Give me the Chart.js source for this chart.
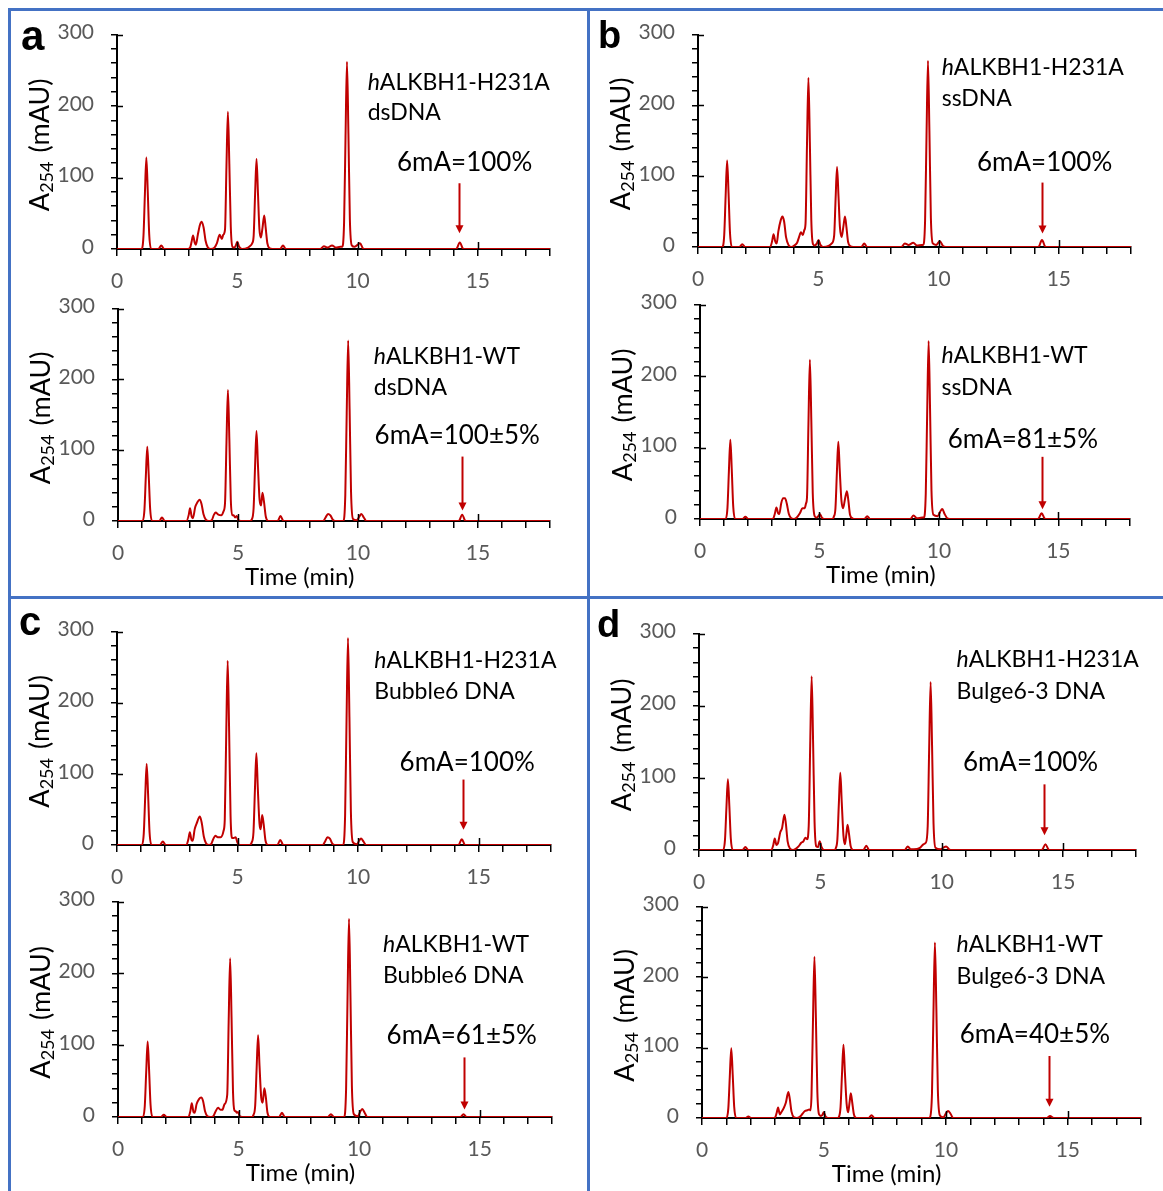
<!DOCTYPE html>
<html>
<head>
<meta charset="utf-8">
<script src="https://cdn.jsdelivr.net/npm/chart.js@4.4.1/dist/chart.umd.min.js"></script>
<style>
  body { margin: 0; background: #fff; }
  #page { position: relative; width: 1163px; height: 1191px; overflow: hidden; background: #fff; }
  #page canvas { position: absolute; }
  .rule { position: absolute; background: #4472C4; }
</style>
</head>
<body>
<div id="page">
  <div class="rule" style="left:8px;top:8px;width:1155px;height:3px"></div>
  <div class="rule" style="left:8px;top:8px;width:3px;height:1183px"></div>
  <div class="rule" style="left:587px;top:8px;width:3px;height:1183px"></div>
  <div class="rule" style="left:8px;top:596px;width:1155px;height:3px"></div>
</div>
<script>
// chromatogram traces, [time (min), A254 (mAU)]
const traceA1 = [[0,0],[1.02,0],[1.1,18],[1.16,77],[1.22,128],[1.28,79],[1.34,20],[1.42,0],
  [1.72,0],[1.84,5],[1.96,0],
  [2.95,0],[3.04,2],[3.1,10],[3.16,19],[3.23,9],[3.28,6],
  [3.36,20],[3.45,34],[3.52,38],[3.6,30],[3.68,12],[3.78,2],[3.9,0],
  [4.05,2],[4.15,8],[4.27,20],[4.36,14],[4.42,20],
  [4.49,27],[4.55,115],[4.61,192],[4.67,119],[4.73,31],[4.8,3],[4.88,2],
  [4.94,5],[5.0,10],[5.08,3],[5.2,0],
  [5.45,2],[5.56,5],[5.62,8],[5.68,18],[5.74,76],[5.8,126],[5.86,78],[5.92,28],[5.98,16],[6.05,30],[6.12,47],[6.18,30],[6.25,8],[6.35,1],[6.45,0],
  [6.78,0],[6.9,5],[7.02,0],
  [8.45,0],[8.6,4],[8.75,2],[8.94,5],[9.1,2],[9.28,3],[9.36,3],
  [9.44,37],[9.5,157],[9.56,262],[9.62,162],[9.68,42],[9.76,5],
  [9.88,3],[10.1,8],[10.25,0],
  [14.1,0],[14.25,9],[14.4,0],[18,0]];

const traceA2 = [[0,0],[1.02,0],[1.1,15],[1.16,63],[1.22,105],[1.28,65],[1.34,17],[1.42,0],
  [1.72,0],[1.83,5],[1.95,0],
  [2.85,0],[2.95,9],[3.0,18],[3.07,6],[3.12,4],
  [3.22,20],[3.3,26],[3.4,30],[3.48,24],[3.56,10],[3.66,2],[3.78,0],
  [3.9,1],[4.0,9],[4.07,12],[4.18,9],[4.3,8],[4.4,14],
  [4.46,26],[4.52,111],[4.58,185],[4.64,115],[4.7,30],[4.76,8],
  [4.82,8],[4.88,5],[4.95,7],[5.02,1],[5.12,0],
  [5.5,0],[5.57,2],[5.65,18],[5.71,76],[5.77,127],[5.83,80],[5.9,30],[5.96,22],[6.02,40],[6.08,28],[6.16,6],[6.26,0],
  [6.65,0],[6.77,7],[6.9,0],
  [8.55,0],[8.65,5],[8.75,10],[8.85,8],[8.95,2],[9.05,0],
  [9.39,0],[9.47,36],[9.53,153],[9.59,255],[9.65,158],[9.71,41],[9.79,3],
  [9.95,1],[10.05,6],[10.14,10],[10.24,5],[10.35,0],
  [14.2,0],[14.34,9],[14.48,0],[18,0]];

const traceB1 = [[0,0],[1.01,0],[1.09,17],[1.15,73],[1.21,122],[1.27,76],[1.33,20],[1.41,0],
  [1.72,0],[1.84,4],[1.96,0],
  [3.0,0],[3.08,8],[3.14,18],[3.21,8],[3.27,5],
  [3.34,22],[3.44,38],[3.51,43],[3.58,36],[3.66,14],[3.76,3],[3.88,0],
  [4.0,2],[4.12,6],[4.2,14],[4.28,21],[4.36,17],[4.42,24],
  [4.47,33],[4.53,143],[4.59,239],[4.65,148],[4.71,38],[4.78,4],[4.86,2],
  [4.94,5],[5.01,10],[5.09,3],[5.2,0],
  [5.45,2],[5.56,5],[5.66,16],[5.72,68],[5.78,113],[5.84,72],[5.9,28],[5.97,14],[6.04,28],[6.11,43],[6.17,28],[6.24,7],[6.34,1],[6.45,0],
  [6.79,0],[6.91,5],[7.03,0],
  [8.45,0],[8.6,5],[8.75,3],[8.95,6],[9.1,2],[9.3,3],
  [9.36,3],[9.44,37],[9.5,158],[9.56,263],[9.62,163],[9.68,42],[9.76,5],
  [9.9,3],[10.05,8],[10.2,1],[10.3,0],
  [14.15,0],[14.3,10],[14.45,0],[18,0]];

const traceB2 = [[0,0],[1.07,0],[1.15,16],[1.21,67],[1.27,111],[1.33,69],[1.39,18],[1.47,0],
  [1.78,0],[1.9,3],[2.02,0],
  [3.05,0],[3.13,7],[3.2,16],[3.27,8],[3.32,7],
  [3.4,22],[3.48,29],[3.56,29],[3.63,22],[3.72,7],[3.82,1],[3.92,0],
  [4.05,2],[4.18,8],[4.29,15],[4.38,15],[4.44,22],
  [4.48,31],[4.54,134],[4.6,223],[4.66,138],[4.72,36],[4.8,4],[4.88,2],
  [4.95,4],[5.02,7],[5.1,2],[5.2,0],
  [5.55,0],[5.6,3],[5.67,15],[5.73,65],[5.79,108],[5.85,68],[5.92,26],[5.99,15],[6.07,28],[6.15,39],[6.21,26],[6.28,6],[6.38,1],[6.48,0],
  [6.88,0],[7.0,4],[7.12,0],
  [8.8,0],[8.94,5],[9.08,1],[9.3,2],
  [9.37,2],[9.45,35],[9.51,149],[9.57,249],[9.63,154],[9.69,40],[9.77,6],
  [9.95,4],[10.05,10],[10.14,14],[10.24,7],[10.35,1],[10.45,0],
  [14.15,0],[14.3,8],[14.45,0],[18,0]];

const traceC1 = [[0,0],[1.03,0],[1.11,16],[1.17,68],[1.23,114],[1.29,71],[1.35,18],[1.43,0],
  [1.78,0],[1.9,5],[2.02,0],
  [2.88,0],[2.96,8],[3.02,18],[3.09,7],[3.14,6],
  [3.22,22],[3.3,30],[3.44,40],[3.52,30],[3.6,12],[3.7,2],[3.82,0],
  [3.9,1],[4.0,9],[4.08,13],[4.18,11],[4.3,11],[4.42,20],
  [4.47,36],[4.53,155],[4.59,259],[4.65,161],[4.71,41],[4.77,10],
  [4.84,10],[4.92,11],[5.0,3],[5.1,0],
  [5.5,0],[5.58,3],[5.66,18],[5.72,77],[5.78,129],[5.84,80],[5.91,30],[5.96,22],[6.02,42],[6.08,30],[6.16,6],[6.26,0],
  [6.65,0],[6.77,7],[6.9,0],
  [8.53,0],[8.63,5],[8.73,11],[8.83,9],[8.93,2],[9.03,0],
  [9.38,0],[9.46,41],[9.52,175],[9.58,291],[9.64,180],[9.7,47],[9.78,4],
  [9.95,1],[10.04,6],[10.12,9],[10.22,5],[10.33,0],
  [14.16,0],[14.3,8],[14.44,0],[18,0]];

const traceC2 = [[0,0],[1.03,0],[1.11,15],[1.17,63],[1.23,105],[1.29,65],[1.35,17],[1.43,0],
  [1.78,0],[1.9,3],[2.02,0],
  [2.92,0],[3.0,8],[3.06,19],[3.13,7],[3.18,6],
  [3.26,18],[3.36,25],[3.45,27],[3.53,22],[3.61,8],[3.71,1],[3.82,0],
  [3.95,1],[4.05,8],[4.15,13],[4.25,10],[4.33,10],[4.42,18],
  [4.53,31],[4.59,133],[4.65,221],[4.71,137],[4.77,35],[4.83,9],
  [4.88,8],[4.93,6],[4.98,7],[5.05,1],[5.15,0],
  [5.55,0],[5.62,3],[5.69,16],[5.75,68],[5.81,114],[5.87,71],[5.94,27],[6.0,20],[6.07,40],[6.13,28],[6.2,6],[6.3,0],
  [6.68,0],[6.8,6],[6.92,0],
  [8.7,0],[8.83,4],[8.96,0],
  [9.38,0],[9.46,39],[9.52,166],[9.58,276],[9.64,171],[9.7,44],[9.78,4],
  [9.95,1],[10.04,7],[10.13,11],[10.23,6],[10.34,0],
  [14.2,0],[14.33,4],[14.46,0],[18,0]];

const traceD1 = [[0,0],[0.99,0],[1.07,14],[1.13,59],[1.19,98],[1.25,61],[1.31,16],[1.39,0],
  [1.79,0],[1.91,4],[2.03,0],
  [2.98,0],[3.06,7],[3.12,16],[3.19,7],[3.25,9],
  [3.35,25],[3.42,30],[3.52,49],[3.58,36],[3.65,12],[3.75,2],[3.87,0],
  [4.0,2],[4.1,5],[4.21,10],[4.3,12],[4.38,17],[4.45,15],[4.52,34],
  [4.58,145],[4.64,241],[4.7,149],[4.76,39],[4.83,5],[4.9,4],
  [4.97,12],[5.05,4],[5.15,0],
  [5.58,0],[5.64,3],[5.7,15],[5.76,64],[5.82,107],[5.88,66],[5.95,20],[6.01,8],[6.07,22],[6.12,35],[6.18,22],[6.25,5],[6.35,0],
  [6.77,0],[6.89,6],[7.01,0],
  [8.47,0],[8.6,5],[8.72,1],[8.85,1],
  [9.1,3],[9.25,8],[9.34,10],
  [9.42,33],[9.48,140],[9.54,233],[9.6,144],[9.66,37],[9.74,3],
  [9.95,1],[10.05,3],[10.18,5],[10.3,1],[10.4,0],
  [14.12,0],[14.27,8],[14.42,0],[18,0]];

const traceD2 = [[0,0],[1.0,0],[1.08,14],[1.14,59],[1.2,99],[1.26,61],[1.32,16],[1.4,0],
  [1.78,0],[1.9,2],[2.02,0],
  [2.98,0],[3.06,7],[3.12,15],[3.19,5],[3.25,8],
  [3.35,14],[3.44,22],[3.54,37],[3.6,27],[3.67,9],[3.77,1],[3.88,0],
  [4.02,2],[4.12,6],[4.22,10],[4.32,11],[4.4,12],[4.45,11],[4.49,32],
  [4.55,137],[4.61,229],[4.67,142],[4.73,37],[4.8,5],[4.87,3],
  [4.93,4],[4.99,8],[5.07,2],[5.17,0],
  [5.56,0],[5.62,2],[5.68,15],[5.74,62],[5.8,104],[5.86,64],[5.93,20],[5.99,8],[6.05,22],[6.1,35],[6.16,22],[6.23,5],[6.33,0],
  [6.83,0],[6.95,4],[7.07,0],
  [9.3,0],[9.35,1],[9.43,35],[9.49,149],[9.55,249],[9.61,154],[9.67,40],[9.75,4],
  [9.9,1],[9.99,6],[10.09,10],[10.19,6],[10.3,0],
  [14.14,0],[14.27,3],[14.42,0],[18,0]];

const xMajor = [0, 5, 10, 15];
const yMajor = [0, 100, 200, 300];
const enzymes = ["hALKBH1-H231A", "hALKBH1-WT", "hALKBH1-H231A", "hALKBH1-WT",
                 "hALKBH1-H231A", "hALKBH1-WT", "hALKBH1-H231A", "hALKBH1-WT"];
const substrates = ["dsDNA", "dsDNA", "ssDNA", "ssDNA",
                    "Bubble6 DNA", "Bubble6 DNA", "Bulge6-3 DNA", "Bulge6-3 DNA"];
const ratios = ["6mA=100%", "6mA=100±5%", "6mA=100%", "6mA=81±5%",
                "6mA=100%", "6mA=61±5%", "6mA=100%", "6mA=40±5%"];
const traces = [traceA1, traceA2, traceB1, traceB2, traceC1, traceC2, traceD1, traceD2];

// layout: plot box in page px [x at 0 min, x at 18 min, y at 300, y at 0],
// text anchors in data units
const layout = [
  { box: [117, 550, 31, 249], lab: [10.42, 223, 180], rat: [11.64, 109], arr: [14.22, 92, 22], letter: ["a", 21, 50, 42] },
  { box: [118, 550, 305, 521], lab: [10.66, 222, 178], rat: [10.69, 108.6], arr: [14.34, 91, 15], time: true },
  { box: [698, 1131, 31, 247], lab: [10.13, 243, 199], rat: [11.6, 107], arr: [14.3, 91, 19], letter: ["b", 598, 48, 38] },
  { box: [700, 1130, 301, 519], lab: [10.11, 217.7, 173], rat: [10.37, 99.6], arr: [14.3, 87, 13.7], time: true },
  { box: [117, 551, 628, 845], lab: [10.67, 248.5, 204.8], rat: [11.72, 103.5], arr: [14.34, 92, 21.6], letter: ["c", 19, 635, 40] },
  { box: [118, 552, 898, 1117], lab: [10.99, 229.8, 186], rat: [11.14, 102], arr: [14.33, 83, 10.5], time: true },
  { box: [699, 1136, 630, 850], lab: [10.61, 254, 210], rat: [10.87, 109], arr: [14.2, 91, 20.5], letter: ["d", 597, 637, 38] },
  { box: [702, 1141, 903, 1118], lab: [10.44, 236, 190.6], rat: [10.57, 106], arr: [14.22, 88, 16], time: true }
];

const RED = "#C00000";
const FONT = "Lato";
const page = document.getElementById("page");

function makeDeco(i, cvLeft, cvTop) {
  const L = layout[i];
  return {
    id: "deco",
    afterDraw(chart) {
      const { ctx, chartArea: ca, scales: { x, y } } = chart;
      ctx.save();

      // major ticks cross the axis
      ctx.strokeStyle = "#000";
      ctx.lineWidth = 1.5;
      ctx.beginPath();
      yMajor.slice(1).forEach(v => {
        const py = Math.round(y.getPixelForValue(v)) + 0.5;
        ctx.moveTo(ca.left, py); ctx.lineTo(ca.left + 6, py);
      });
      xMajor.slice(1).forEach(v => {
        const px = Math.round(x.getPixelForValue(v)) + 0.5;
        ctx.moveTo(px, ca.bottom); ctx.lineTo(px, ca.bottom - 7);
      });
      ctx.stroke();

      // y axis title with subscript
      ctx.save();
      ctx.translate(ca.left - 68, (ca.top + ca.bottom) / 2 + 3);
      ctx.rotate(-Math.PI / 2);
      ctx.fillStyle = "#000";
      ctx.textAlign = "left";
      ctx.textBaseline = "alphabetic";
      ctx.font = `27px ${FONT}`;
      const wA = ctx.measureText("A").width;
      const wR = ctx.measureText("(mAU)").width;
      ctx.font = `18px ${FONT}`;
      const wS = ctx.measureText("254").width;
      let tx = -(wA + wS + 9 + wR) / 2;
      ctx.font = `27px ${FONT}`;
      ctx.fillText("A", tx, 0); tx += wA;
      ctx.font = `18px ${FONT}`;
      ctx.fillText("254", tx, 4); tx += wS + 9;
      ctx.font = `27px ${FONT}`;
      ctx.fillText("(mAU)", tx, 0);
      ctx.restore();

      // sample labels
      ctx.fillStyle = "#000";
      ctx.textAlign = "left";
      ctx.textBaseline = "alphabetic";
      const lx = x.getPixelForValue(L.lab[0]);
      const name = enzymes[i];
      ctx.font = `italic 23px ${FONT}`;
      ctx.fillText(name[0], lx, y.getPixelForValue(L.lab[1]));
      const wh = ctx.measureText(name[0]).width;
      ctx.font = `23px ${FONT}`;
      ctx.fillText(name.slice(1), lx + wh, y.getPixelForValue(L.lab[1]));
      ctx.fillText(substrates[i], lx, y.getPixelForValue(L.lab[2]));
      ctx.font = `26px ${FONT}`;
      ctx.fillText(ratios[i], x.getPixelForValue(L.rat[0]), y.getPixelForValue(L.rat[1]));

      // arrow to the 6mA peak
      const ax = Math.round(x.getPixelForValue(L.arr[0])) + 0.5;
      const ay1 = y.getPixelForValue(L.arr[1]);
      const ay2 = y.getPixelForValue(L.arr[2]);
      ctx.strokeStyle = RED;
      ctx.fillStyle = RED;
      ctx.lineWidth = 2;
      ctx.beginPath();
      ctx.moveTo(ax, ay1); ctx.lineTo(ax, ay2 - 6);
      ctx.stroke();
      ctx.beginPath();
      ctx.moveTo(ax - 4, ay2 - 8); ctx.lineTo(ax + 4, ay2 - 8); ctx.lineTo(ax, ay2);
      ctx.closePath();
      ctx.fill();

      // x axis title
      if (L.time) {
        ctx.fillStyle = "#000";
        ctx.textAlign = "center";
        ctx.font = `24px ${FONT}`;
        ctx.fillText("Time (min)", x.getPixelForValue(7.57), ca.bottom + 64);
      }

      // panel letter
      if (L.letter) {
        const [t, px, py, sz] = L.letter;
        ctx.fillStyle = "#000";
        ctx.textAlign = "left";
        ctx.font = `bold ${sz}px "Liberation Sans", Arial, sans-serif`;
        ctx.fillText(t, px - cvLeft, py - cvTop);
      }
      ctx.restore();
    }
  };
}

traces.forEach((tr, i) => {
  const [x0, x1, yT, yB] = layout[i].box;
  const left = x0 - 112, top = yT - 26;
  const right = x1 + 14, bottom = yB + 74;
  const cv = document.createElement("canvas");
  cv.width = right - left;
  cv.height = bottom - top;
  cv.style.left = left + "px";
  cv.style.top = top + "px";
  page.appendChild(cv);

  new Chart(cv, {
    type: "line",
    data: {
      datasets: [{
        data: tr.map(p => ({ x: p[0], y: p[1] })),
        borderColor: RED,
        borderWidth: 2,
        pointRadius: 0,
        fill: false,
        cubicInterpolationMode: "monotone"
      }]
    },
    options: {
      responsive: false,
      animation: false,
      devicePixelRatio: 1,
      layout: { padding: { left: 0, top: yT - top, right: right - x1, bottom: 0 } },
      plugins: { legend: { display: false }, tooltip: { enabled: false } },
      scales: {
        x: {
          type: "linear",
          min: 0, max: 18,
          afterFit: s => { s.height = bottom - yB; },
          border: { display: true, color: "#000", width: 2 },
          grid: { display: true, drawOnChartArea: false, drawTicks: true, tickLength: 7, color: "#000", lineWidth: 1.5 },
          ticks: {
            stepSize: 1, autoSkip: false, maxRotation: 0, padding: 13,
            color: "#595959", font: { family: FONT, size: 21 },
            callback: v => xMajor.includes(v) ? String(v) : ""
          }
        },
        y: {
          min: 0, max: 300,
          afterFit: s => { s.width = x0 - left; },
          border: { display: true, color: "#000", width: 2 },
          grid: { display: true, drawOnChartArea: false, drawTicks: true, tickLength: 6, color: "#000", lineWidth: 1.5 },
          ticks: {
            stepSize: 20, autoSkip: false, padding: 17, labelOffset: -2,
            color: "#595959", font: { family: FONT, size: 21 },
            callback: v => yMajor.includes(v) ? String(v) : ""
          }
        }
      }
    },
    plugins: [makeDeco(i, left, top)]
  });
});
</script>
</body>
</html>
